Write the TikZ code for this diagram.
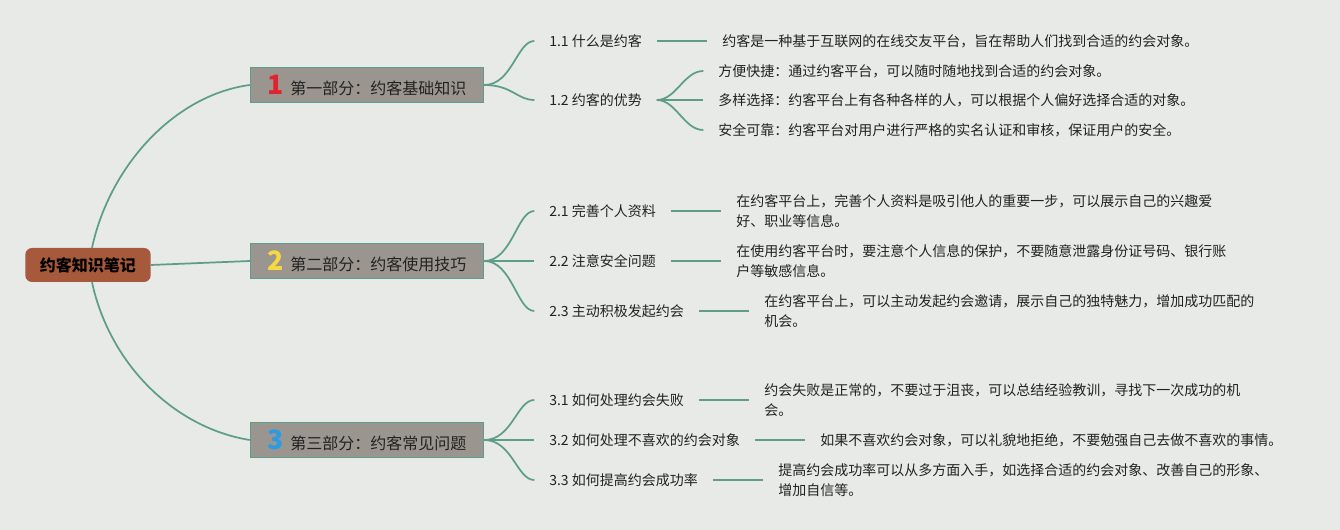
\documentclass[tikz,border=0pt]{standalone}
\usepackage{fontspec}
\setmainfont{Noto Sans CJK SC}
\usepackage{xcolor}
\usepackage{tikz}
\usetikzlibrary{positioning}
\definecolor{Paper}{HTML}{E8EAE7}
\definecolor{Branch}{HTML}{5E9D8A}
\definecolor{RootFill}{HTML}{A65A3B}
\definecolor{PartFill}{HTML}{9A958E}
\definecolor{Ink}{HTML}{222222}
\definecolor{NumRed}{HTML}{E0242F}
\definecolor{NumYellow}{HTML}{F5D842}
\definecolor{NumBlue}{HTML}{2B9CE3}
\newcommand\partno[2]{\textcolor{#1}{\fontsize{20}{20}\selectfont\bfseries #2}\hspace{5pt}}

\begin{document}
\begin{tikzpicture}[
    x=0.75pt,y=-0.75pt,
    font=\fontsize{10.5}{15}\selectfont,
    node distance=54pt,
    root/.style={fill=RootFill,rounded corners=5pt,minimum width=94pt,minimum height=25.5pt,
      font=\fontsize{12}{14}\selectfont\bfseries,text=black},
    part/.style={draw=Branch,line width=0.8pt,fill=PartFill,minimum width=175pt,minimum height=26pt,
      inner sep=2pt,font=\fontsize{12}{14}\selectfont,text=Ink},
    topic/.style={anchor=west,inner sep=3pt,text=Ink},
    leaf/.style={inner sep=3pt,align=left,text=Ink},
    branch/.style={draw=Branch,line width=1.3pt},
    stub/.style={branch,shorten <=8pt,shorten >=8pt}
]
\fill[Paper] (0,0) rectangle (1340,530);
\useasboundingbox (0,0) rectangle (1340,530);

\node[root] (root) at (88,265) {约客知识笔记};

\node[part] (p1) at (367,85) {\partno{NumRed}{1}第一部分：约客基础知识};
\node[part] (p2) at (367,261) {\partno{NumYellow}{2}第二部分：约客使用技巧};
\node[part] (p3) at (367,440) {\partno{NumBlue}{3}第三部分：约客常见问题};

% part 1
\node[topic] (t11) at (545,41) {1.1 什么是约客};
\node[topic] (t12) at (545,100) {1.2 约客的优势};
\node[leaf,right=of t11] (l11) {约客是一种基于互联网的在线交友平台，旨在帮助人们找到合适的约会对象。};
\node[leaf,anchor=west] (l12a) at (714,71) {方便快捷：通过约客平台，可以随时随地找到合适的约会对象。};
\node[leaf,anchor=west] (l12b) at (714,100) {多样选择：约客平台上有各种各样的人，可以根据个人偏好选择合适的对象。};
\node[leaf,anchor=west] (l12c) at (714,130) {安全可靠：约客平台对用户进行严格的实名认证和审核，保证用户的安全。};

% part 2
\node[topic] (t21) at (545,211) {2.1 完善个人资料};
\node[topic] (t22) at (545,261) {2.2 注意安全问题};
\node[topic] (t23) at (545,311) {2.3 主动积极发起约会};
\node[leaf,right=of t21] (l21) {在约客平台上，完善个人资料是吸引他人的重要一步，可以展示自己的兴趣爱\\好、职业等信息。};
\node[leaf,right=of t22] (l22) {在使用约客平台时，要注意个人信息的保护，不要随意泄露身份证号码、银行账\\户等敏感信息。};
\node[leaf,right=of t23] (l23) {在约客平台上，可以主动发起约会邀请，展示自己的独特魅力，增加成功匹配的\\机会。};

% part 3
\node[topic] (t31) at (545,400) {3.1 如何处理约会失败};
\node[topic] (t32) at (545,440) {3.2 如何处理不喜欢的约会对象};
\node[topic] (t33) at (545,480) {3.3 如何提高约会成功率};
\node[leaf,right=of t31] (l31) {约会失败是正常的，不要过于沮丧，可以总结经验教训，寻找下一次成功的机\\会。};
\node[leaf,right=of t32] (l32) {如果不喜欢约会对象，可以礼貌地拒绝，不要勉强自己去做不喜欢的事情。};
\node[leaf,right=of t33] (l33) {提高约会成功率可以从多方面入手，如选择合适的约会对象、改善自己的形象、\\增加自信等。};

% branches
\draw[branch] (root.east) -- (p2.west);
\draw[branch] ([xshift=3pt]root.north) .. controls (110,165) and (175,95) .. (p1.west);
\draw[branch] ([xshift=3pt]root.south) .. controls (110,365) and (175,428) .. (p3.west);

\foreach \t in {t11,t12}
  \draw[branch,shorten >=8pt] (p1.east) .. controls +(28,0) and +(-28,0) .. (\t.west);
\foreach \t in {t21,t22,t23}
  \draw[branch,shorten >=8pt] (p2.east) .. controls +(28,0) and +(-28,0) .. (\t.west);
\foreach \t in {t31,t32,t33}
  \draw[branch,shorten >=8pt] (p3.east) .. controls +(28,0) and +(-28,0) .. (\t.west);

\foreach \l in {l12a,l12b,l12c}
  \draw[stub] (t12.east) .. controls +(30,0) and +(-30,0) .. (\l.west);

\draw[stub] (t11.east) -- (l11.west);
\draw[stub] (t21.east) -- (l21.west);
\draw[stub] (t22.east) -- (l22.west);
\draw[stub] (t23.east) -- (l23.west);
\draw[stub] (t31.east) -- (l31.west);
\draw[stub] (t32.east) -- (l32.west);
\draw[stub] (t33.east) -- (l33.west);
\end{tikzpicture}
\end{document}
